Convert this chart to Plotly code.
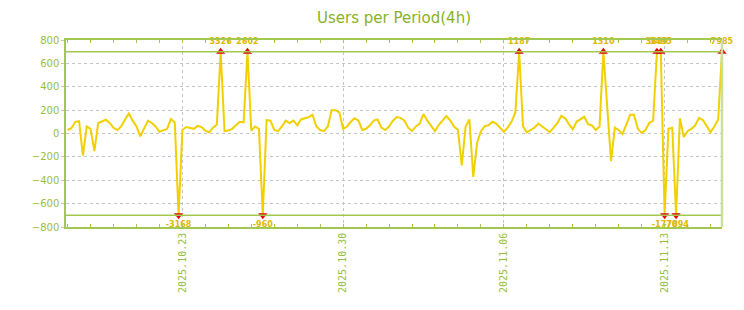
import pandas as pd
import plotly.graph_objects as go

# ---- data (4-hour periods) ----
start = "2025-10-18 00:00"
values = [
    30, 45, 100, 105, -190, 60, 40, -150, 90, 105,          # 0-9
    118, 90, 49, 29, 60, 120, 171, 110, 60, -25,            # 10-19
    50, 110, 90, 60, 15, 25, 40, 125, 95, -3168,            # 20-29
    30, 55, 50, 40, 65, 55, 25, 10, 50, 77,                 # 30-39
    3326, 20, 25, 40, 70, 100, 95, 2602, 25, 60,            # 40-49
    40, -960, 115, 110, 30, 20, 60, 110, 90, 110,           # 50-59
    70, 120, 130, 140, 160, 60, 30, 20, 60, 200,            # 60-69
    200, 180, 40, 60, 100, 130, 110, 30, 40, 70,            # 70-79
    110, 120, 50, 30, 60, 110, 140, 134, 110, 50,           # 80-89
    20, 60, 85, 165, 110, 60, 20, 75, 110, 150,             # 90-99
    110, 60, 30, -274, 60, 120, -371, -80, 20, 63,          # 100-109
    70, 100, 85, 50, 15, 50, 100, 180, 1187, 60,            # 110-119
    10, 30, 50, 85, 60, 30, 11, 50, 91, 150,                # 120-129
    130, 80, 35, 100, 125, 143, 80, 69, 30, 60,             # 130-139
    1310, 210, -237, 50, 30, -5, 80, 160, 160, 40,          # 140-149
    5, 30, 90, 110, 3889, 3495, -1770, 40, 49, -7894,       # 150-159
    130, -30, 20, 40, 70, 134, 115, 60, 10, 60,             # 160-169
    120, 7985,                                              # 170-171
]
CLIP = 700
tick_dates = ["2025-10-23", "2025-10-30", "2025-11-06", "2025-11-13"]
tick_labels = ["2025.10.23", "2025.10.30", "2025.11.06", "2025.11.13"]
y_ticks = [-800, -600, -400, -200, 0, 200, 400, 600, 800]

times = pd.date_range(start, periods=len(values), freq="4h")
clipped = [max(-CLIP, min(CLIP, v)) for v in values]

up_x = [t for t, v in zip(times, values) if v > CLIP]
up_t = [str(v) for v in values if v > CLIP]
dn_x = [t for t, v in zip(times, values) if v < -CLIP]
dn_t = [str(v) for v in values if v < -CLIP]

LINE = "#f2d000"
GREEN = "#a3c850"
TXT = "#95bf3a"
GRID = "#c4c4c4"
LBL = "#dfb800"

fig = go.Figure()
fig.add_trace(go.Scatter(x=times, y=clipped, mode="lines",
                         line=dict(color=LINE, width=2), hoverinfo="skip"))
fig.add_trace(go.Scatter(x=up_x, y=[CLIP] * len(up_x), mode="markers+text",
                         marker=dict(symbol="triangle-up", size=8, color="#e60000"),
                         text=up_t, textposition="top center", cliponaxis=False,
                         textfont=dict(size=8, color=LBL, family="DejaVu Sans",
                                       weight="bold")))
fig.add_trace(go.Scatter(x=dn_x, y=[-CLIP] * len(dn_x), mode="markers+text",
                         marker=dict(symbol="triangle-down", size=8, color="#e60000"),
                         text=dn_t, textposition="bottom center", cliponaxis=False,
                         textfont=dict(size=8, color=LBL, family="DejaVu Sans",
                                       weight="bold")))

for yv in (CLIP, -CLIP):
    fig.add_shape(type="line", xref="paper", x0=0, x1=1, yref="y", y0=yv, y1=yv,
                  line=dict(color=GREEN, width=1.5), layer="above")
fig.add_shape(type="line", xref="paper", x0=1, x1=1, yref="paper", y0=0, y1=1,
              line=dict(color="#c9df9f", width=2.5), layer="above")

fig.update_layout(
    width=744, height=310,
    margin=dict(l=66, r=22, t=40, b=83),
    paper_bgcolor="white", plot_bgcolor="white",
    showlegend=False,
    title=dict(text="Users per Period(4h)", x=0.5, xref="paper", xanchor="center",
               y=1 - 18 / 310, yanchor="middle",
               font=dict(family="DejaVu Sans", size=15, color="#86b31e")),
    font=dict(family="DejaVu Sans", size=10, color=TXT),
)
fig.update_xaxes(
    type="date",
    range=["2025-10-17 22:20", "2025-11-15 12:00"],
    tickvals=pd.to_datetime(tick_dates), ticktext=tick_labels,
    tickangle=-90, tickfont=dict(family="DejaVu Sans Mono", size=10, color=TXT),
    showgrid=True, gridcolor=GRID, griddash="dot", gridwidth=1,
    showline=True, linecolor=GREEN, linewidth=1.5, mirror="allticks",
    ticks="inside", ticklen=3, tickcolor=GREEN,
    minor=dict(dtick=86400000, ticks="inside", ticklen=3, tickcolor=GREEN, showgrid=False),
    zeroline=False,
)
fig.update_yaxes(
    range=[-800, 800], tickvals=y_ticks,
    tickfont=dict(family="DejaVu Sans", size=10, color=TXT),
    showgrid=True, gridcolor=GRID, griddash="dot", gridwidth=1,
    showline=True, linecolor=GREEN, linewidth=1.5, mirror=False,
    ticks="outside", ticklen=3, tickcolor=GRID,
    zeroline=False,
)

fig.write_html("out.html")
